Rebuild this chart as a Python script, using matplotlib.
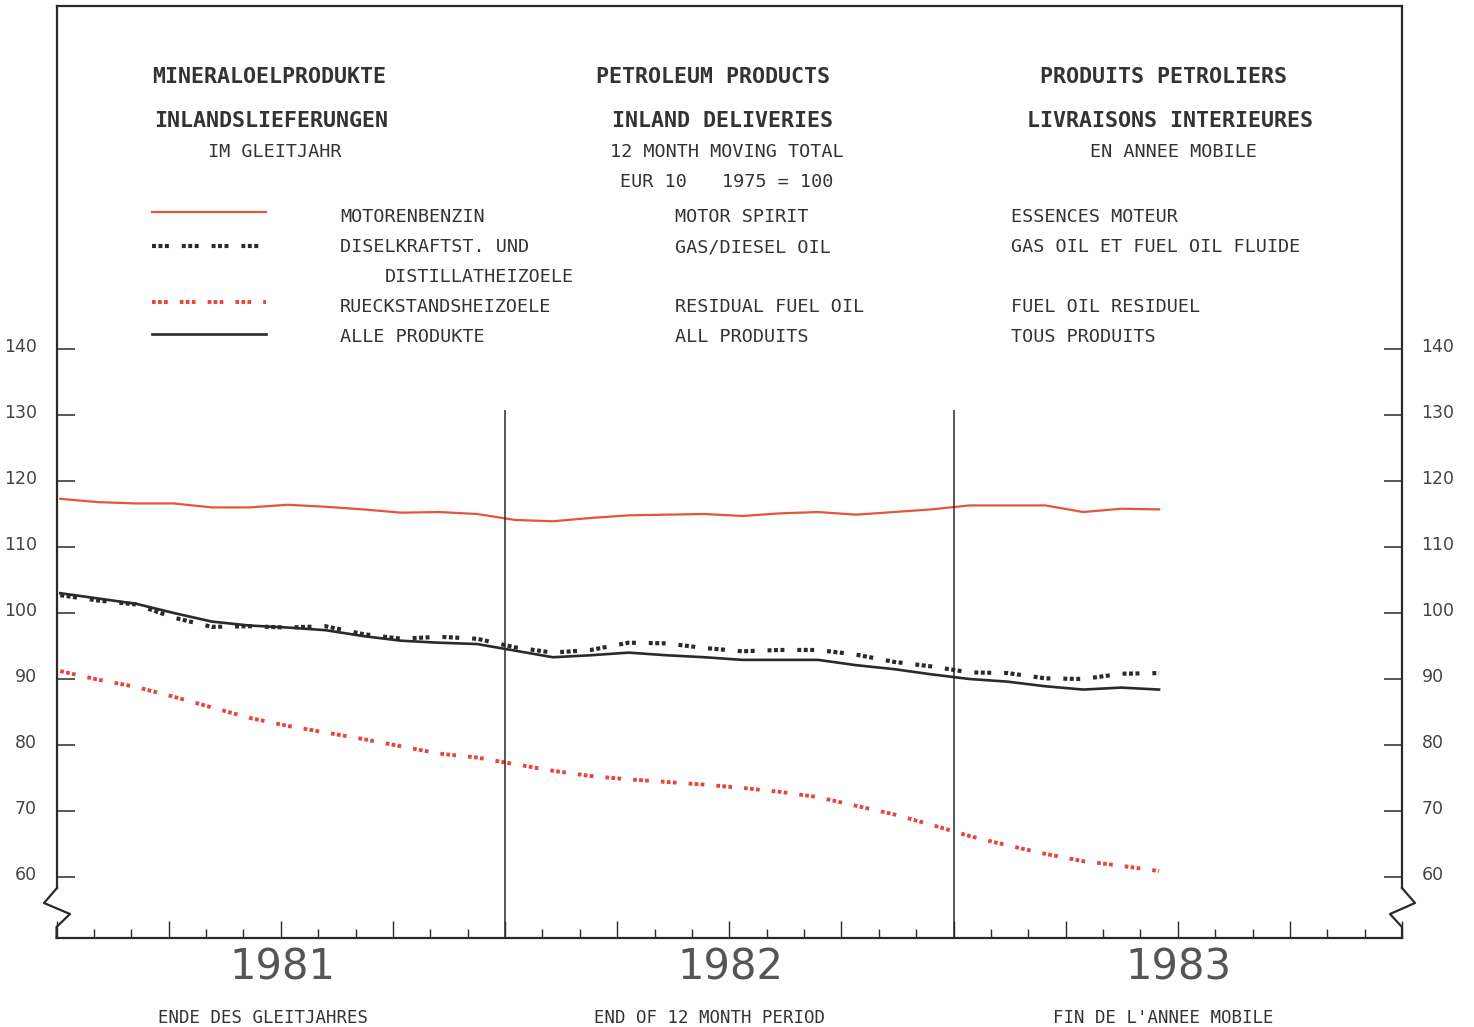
import numpy as np
import matplotlib

matplotlib.use("Agg")
import matplotlib.pyplot as plt
import matplotlib.transforms as mtransforms
from matplotlib.lines import Line2D

W, H = 1474, 1027

# monthly observations Jan 1981 .. Jun 1983, 12 month moving total, EUR 10, 1975 = 100
months = np.linspace(0.1, 29.5, 30)
motor_spirit = [117.3, 116.8, 116.6, 116.6, 116.0, 116.0, 116.4, 116.1, 115.7, 115.2,
                115.3, 115.0, 114.1, 113.9, 114.4, 114.8, 114.9, 115.0, 114.7, 115.1,
                115.3, 114.9, 115.3, 115.7, 116.3, 116.3, 116.3, 115.3, 115.8, 115.7]
gas_diesel = [102.7, 101.9, 101.3, 99.3, 97.9, 98.0, 97.8, 98.0, 96.8, 96.1,
              96.4, 96.1, 94.8, 94.0, 94.4, 95.5, 95.4, 94.7, 94.2, 94.4,
              94.4, 93.7, 92.6, 91.9, 91.0, 90.9, 90.1, 90.0, 90.8, 90.9]
residual = [91.2, 89.9, 88.8, 87.3, 85.7, 84.1, 82.9, 81.9, 80.9, 79.8,
            78.7, 78.1, 77.1, 76.1, 75.3, 74.8, 74.4, 74.0, 73.5, 72.9,
            72.1, 70.8, 69.5, 67.9, 66.2, 64.8, 63.5, 62.4, 61.7, 60.9]
all_products = [103.0, 102.2, 101.4, 100.0, 98.7, 98.1, 97.8, 97.4, 96.5, 95.8,
                95.5, 95.3, 94.3, 93.3, 93.6, 94.0, 93.6, 93.3, 92.9, 92.9,
                92.9, 92.1, 91.5, 90.7, 90.0, 89.6, 88.9, 88.4, 88.7, 88.4]

y_ticks = [60, 70, 80, 90, 100, 110, 120, 130, 140]
years = ["1981", "1982", "1983"]

ORANGE = "#e4553c"
RED = "#e8453c"
INK = "#2a2a2a"
TXT = "#333333"
MONO = "DejaVu Sans Mono"
SQUARES = (0, (0.95, 0.6, 0.95, 0.6, 0.95, 3.1))


def fx(x):
    return x / W


def fy(y):
    return 1 - y / H


fig = plt.figure(figsize=(W / 100, H / 100), dpi=100, facecolor="white")
ax = fig.add_axes([fx(56.5), fy(938), (1402 - 56.5) / W, (938 - 6) / H])
ax.set_xlim(0, 36)
ax.set_ylim(50.76, 191.97)

ax.plot(months, motor_spirit, color=ORANGE, lw=1.6)
ax.plot(months, all_products, color=INK, lw=1.9)
ax.plot(months, gas_diesel, color=INK, lw=3.0, linestyle=SQUARES, dash_capstyle="butt")
ax.plot(months, residual, color=RED, lw=2.8, linestyle=SQUARES, dash_capstyle="butt")

# year separators
ax.vlines([12, 24], 50.76, 130.8, color=INK, lw=1.1)

# axes styling
for side in ["left", "right", "top", "bottom"]:
    ax.spines[side].set_linewidth(1.6)
    ax.spines[side].set_color(INK)
ax.spines["left"].set_bounds(58.3, 191.97)
ax.spines["right"].set_bounds(58.3, 191.97)

ax.set_yticks(y_ticks)
ax.tick_params(axis="y", direction="in", length=13, width=1.1, color=INK,
               left=True, right=True, labelleft=True, labelright=True,
               pad=14, labelsize=12.5, labelcolor="#444444")
lift = mtransforms.ScaledTranslation(0, 4 / 100, fig.dpi_scale_trans)
for tick in ax.yaxis.get_major_ticks():
    tick.label1.set_transform(tick.label1.get_transform() + lift)
    tick.label2.set_transform(tick.label2.get_transform() + lift)
ax.set_xticks(range(0, 37, 3))
ax.set_xticks(range(0, 37), minor=True)
ax.tick_params(axis="x", which="major", direction="in", length=12, width=1.0,
               color=INK, labelbottom=False, top=False)
ax.tick_params(axis="x", which="minor", direction="in", length=6.5, width=1.0,
               color=INK, top=False)

# axis break zigzags
for xs, ys in [([57, 44, 70, 56.5, 56.5], [888, 903, 914, 927, 938]),
               ([1402, 1415, 1390, 1402, 1402], [888, 903, 914, 927, 938])]:
    fig.add_artist(Line2D([fx(v) for v in xs], [fy(v) for v in ys],
                          color=INK, lw=1.6))

# year labels under the axis
for i, yr in enumerate(years):
    fig.text(fx(56.5 + 448 * i + 226), fy(979), yr, ha="center", va="baseline",
             fontsize=30, color="#555555")

# headings
heads = [
    (152, 83, "MINERALOELPRODUKTE", True),
    (154, 127, "INLANDSLIEFERUNGEN", True),
    (208, 157, "IM GLEITJAHR", False),
    (596, 83, "PETROLEUM PRODUCTS", True),
    (612, 127, "INLAND DELIVERIES", True),
    (610, 157, "12 MONTH MOVING TOTAL", False),
    (620, 187, "EUR 10", False),
    (722, 187, "1975 = 100", False),
    (1040, 83, "PRODUITS PETROLIERS", True),
    (1027, 127, "LIVRAISONS INTERIEURES", True),
    (1090, 157, "EN ANNEE MOBILE", False),
]
for x, y, s, bold in heads:
    fig.text(fx(x), fy(y), s, ha="left", va="baseline", family=MONO,
             fontsize=15.6 if bold else 13.3,
             fontweight="bold" if bold else "normal", color=TXT)

# legend samples
samples = [
    (212, dict(color=ORANGE, lw=1.6)),
    (246, dict(color=INK, lw=3.0, linestyle=SQUARES, dash_capstyle="butt")),
    (302, dict(color=RED, lw=2.8, linestyle=SQUARES, dash_capstyle="butt")),
    (334, dict(color=INK, lw=1.9)),
]
for y, style in samples:
    fig.add_artist(Line2D([fx(152), fx(266)], [fy(y), fy(y)], **style))

legend_rows = [
    (222, [(340, "MOTORENBENZIN"), (675, "MOTOR SPIRIT"), (1011, "ESSENCES MOTEUR")]),
    (252, [(340, "DISELKRAFTST. UND"), (675, "GAS/DIESEL OIL"),
           (1011, "GAS OIL ET FUEL OIL FLUIDE")]),
    (282, [(385, "DISTILLATHEIZOELE")]),
    (312, [(340, "RUECKSTANDSHEIZOELE"), (675, "RESIDUAL FUEL OIL"),
           (1011, "FUEL OIL RESIDUEL")]),
    (342, [(340, "ALLE PRODUKTE"), (675, "ALL PRODUITS"), (1011, "TOUS PRODUITS")]),
]
for y, items in legend_rows:
    for x, s in items:
        fig.text(fx(x), fy(y), s, ha="left", va="baseline", family=MONO,
                 fontsize=13.3, color=TXT)

# footer
for x, s in [(158, "ENDE DES GLEITJAHRES"), (594, "END OF 12 MONTH PERIOD"),
             (1053, "FIN DE L'ANNEE MOBILE")]:
    fig.text(fx(x), fy(1023), s, ha="left", va="baseline", family=MONO,
             fontsize=12.5, color=TXT)

fig.savefig("out.png", dpi=100, facecolor="white")
